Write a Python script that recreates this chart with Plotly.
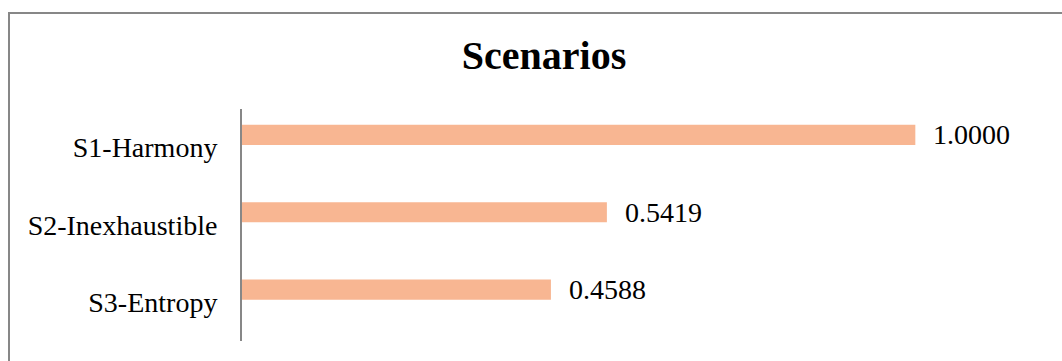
import plotly.graph_objects as go

# Scenario scores
scenarios = ["S1-Harmony", "S2-Inexhaustible", "S3-Entropy"]
scores = [1.0000, 0.5419, 0.4588]
score_labels = ["1.0000", "0.5419", "0.4588"]

W, H = 1062, 361
ML, MR, MT, MB = 242, 12, 109, 20
PW, PH = W - ML - MR, H - MT - MB

FONT = "Liberation Serif"
BAR_COLOR = "#F8B692"
LINE_COLOR = "#878787"

# bars sit in the upper part of each category slot
BAR_W = 0.26
BAR_SHIFT = -0.165

fig = go.Figure(
    go.Bar(
        x=scores,
        y=scenarios,
        orientation="h",
        width=BAR_W,
        offset=BAR_SHIFT - BAR_W / 2,
        marker=dict(color=BAR_COLOR, line=dict(width=0)),
        hoverinfo="skip",
    )
)

# value labels to the right of each bar
for i, (v, t) in enumerate(zip(scores, score_labels)):
    fig.add_annotation(
        x=v, y=i + BAR_SHIFT, text=t, showarrow=False,
        xanchor="left", yanchor="middle", xshift=16,
        font=dict(family=FONT, size=28, color="#000000"),
    )

# outer chart frame (runs past the right and bottom edges of the page)
def px_x(p):
    return (p - ML) / PW

def px_y(p):
    return 1 - (p - MT) / PH

fig.add_shape(
    type="rect", xref="paper", yref="paper",
    x0=px_x(9), x1=px_x(W + 20), y0=px_y(H + 20), y1=px_y(13),
    line=dict(color=LINE_COLOR, width=2), fillcolor="rgba(0,0,0,0)",
    layer="below",
)

fig.update_layout(
    width=W, height=H,
    margin=dict(l=ML, r=MR, t=MT, b=MB, pad=0),
    paper_bgcolor="white", plot_bgcolor="white",
    showlegend=False,
    title=dict(
        text="<b>Scenarios</b>",
        x=544 / W, xanchor="center",
        y=1 - 55 / H, yanchor="middle",
        font=dict(family=FONT, size=40, color="#000000"),
    ),
    xaxis=dict(
        range=[0, 1.2], visible=False, showgrid=False, zeroline=False,
        fixedrange=True,
    ),
    yaxis=dict(
        range=[2.5, -0.5],
        showline=True, linecolor=LINE_COLOR, linewidth=2,
        showgrid=False, zeroline=False, ticks="",
        ticklabelstandoff=17,
        tickfont=dict(family=FONT, size=28, color="#000000"),
        fixedrange=True,
    ),
)

fig.write_html("out.html")
